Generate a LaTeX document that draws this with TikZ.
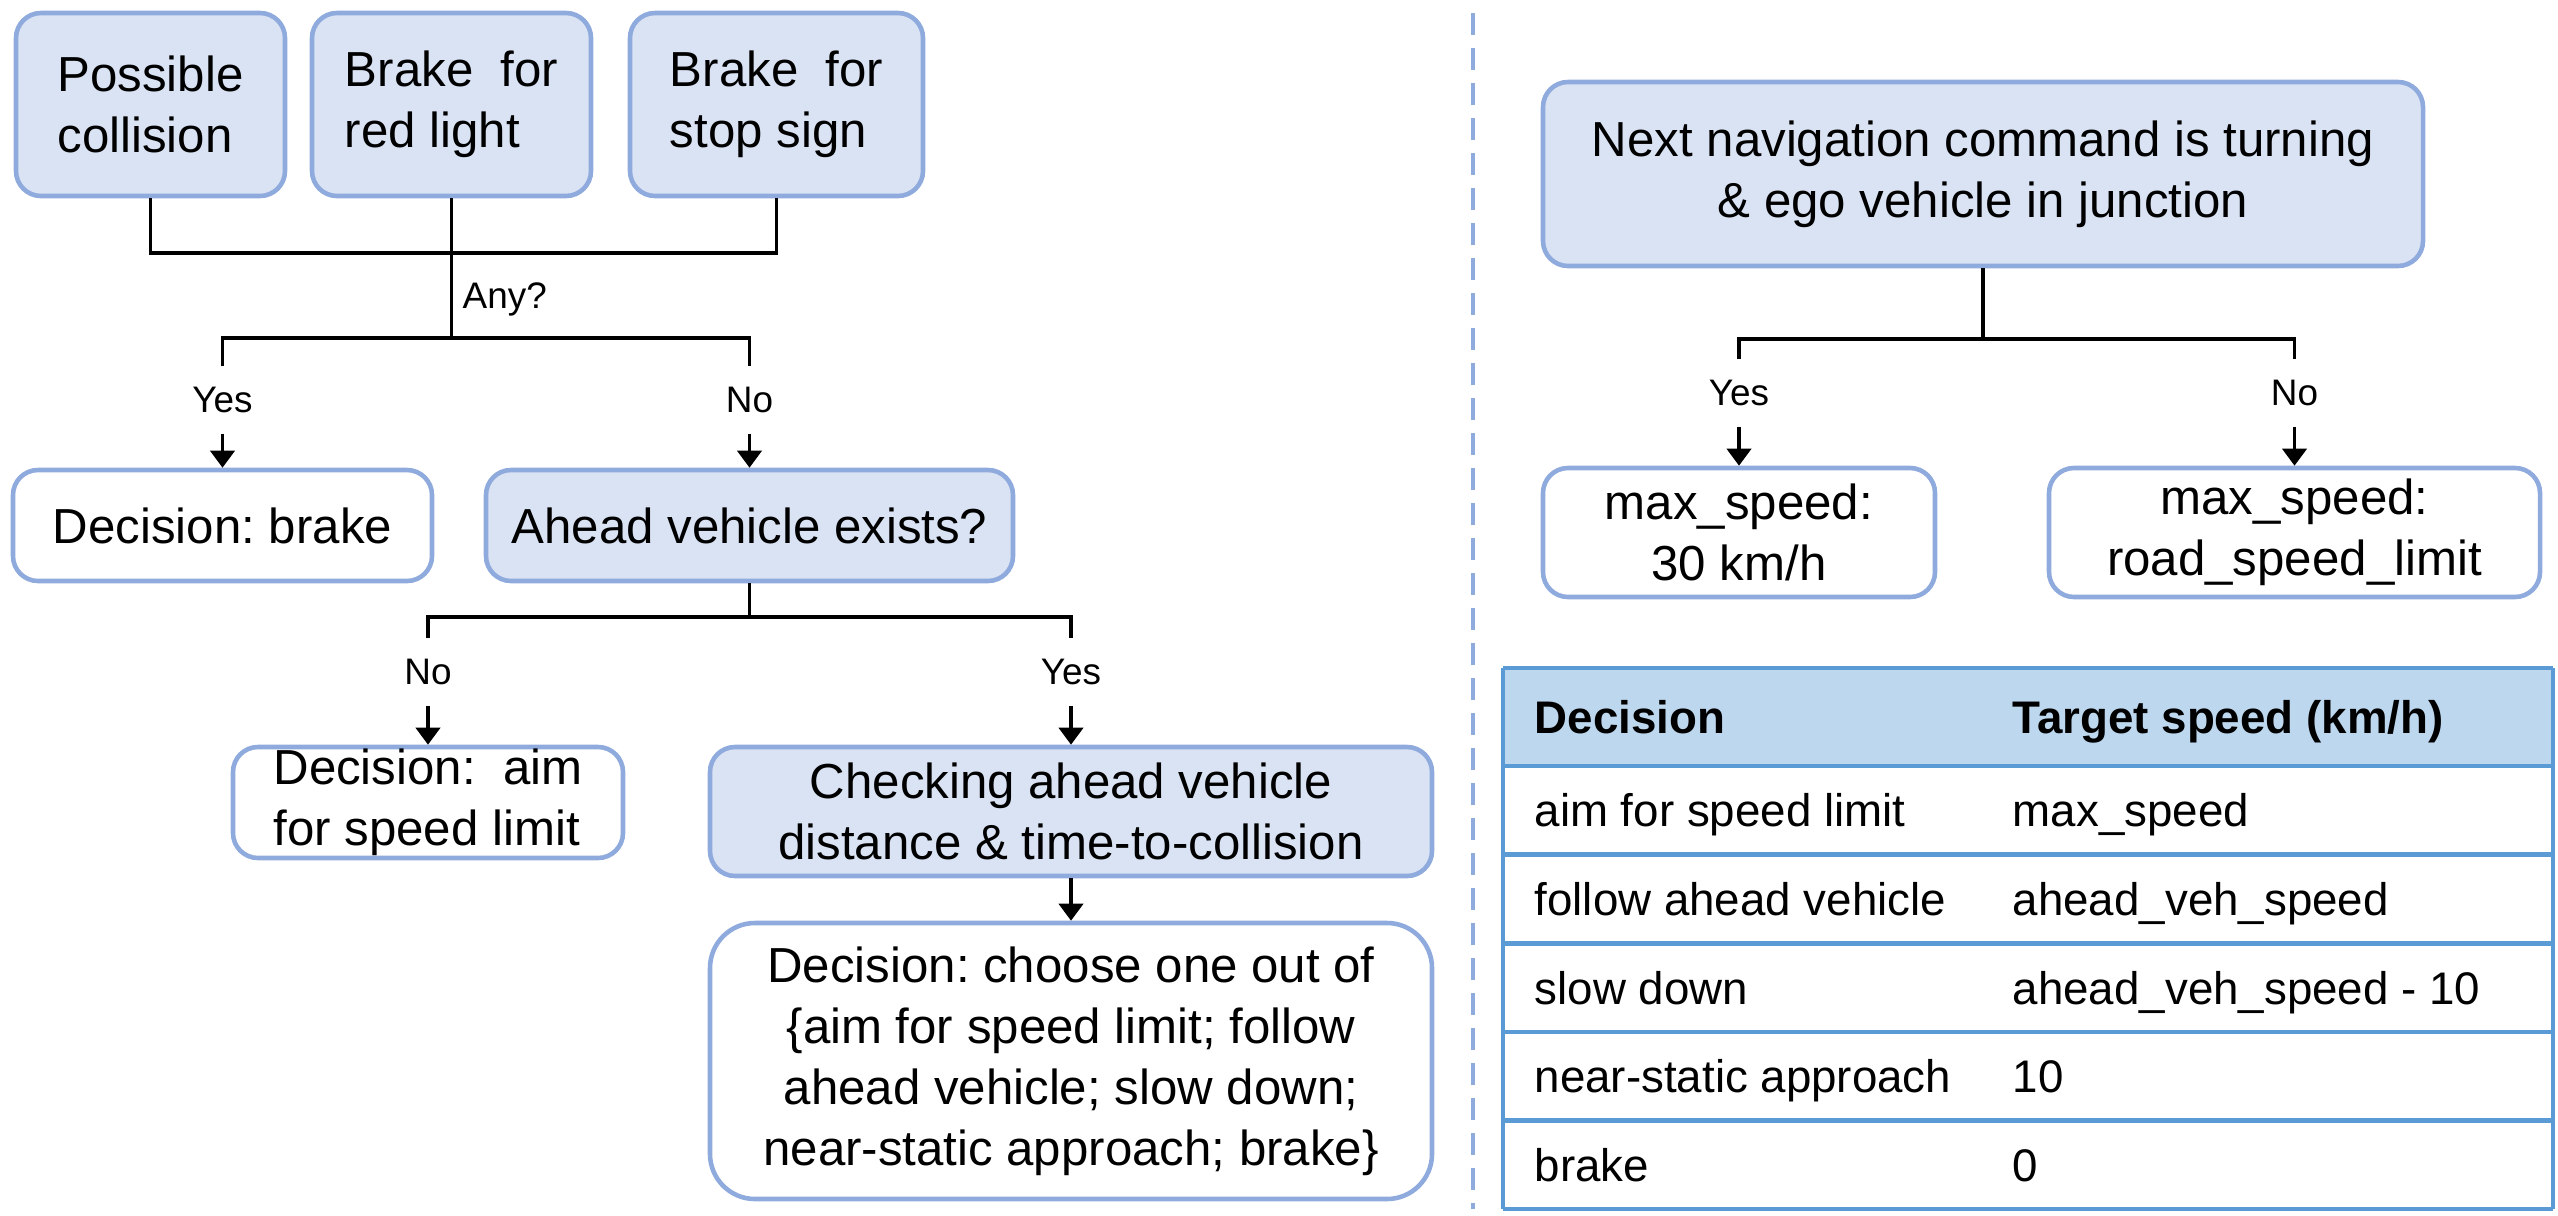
\documentclass[tikz,border=0pt]{standalone}
\usepackage{fontspec}
\setmainfont{Liberation Sans}
\usetikzlibrary{arrows.meta}
\definecolor{boxfill}{HTML}{DAE3F3}
\definecolor{boxline}{HTML}{8FAADC}
\definecolor{headfill}{HTML}{BDD7EE}
\definecolor{tabline}{HTML}{5B9BD5}
\frenchspacing

\begin{document}
\begin{tikzpicture}
  [box/.style={draw=boxline,line width=1.3pt,rounded corners=0.25cm,align=center,
     inner sep=0pt,font=\fontsize{14}{17.4}\selectfont},
   query/.style={box,fill=boxfill},
   decision/.style={box,fill=white},
   answer/.style={inner sep=0pt,minimum height=0.66cm,font=\fontsize{10.5}{12}\selectfont},
   link/.style={line width=1.1pt},
   arrow/.style={link,-{Triangle[length=1.7mm,width=2.4mm]}},
   cell/.style={anchor=base west,inner sep=0pt,font=\fontsize{13}{15}\selectfont}]
  \useasboundingbox (0,0) rectangle (25.58,-12.15);

  % left: braking checks
  \node[query,minimum width=2.69cm,minimum height=1.83cm,align=left] (coll) at (1.505,-1.045) {Possible\\collision};
  \node[query,minimum width=2.79cm,minimum height=1.83cm,align=left] (red) at (4.515,-1.045) {Brake\ \ for\\red light};
  \node[query,minimum width=2.93cm,minimum height=1.83cm,align=left] (stop) at (7.765,-1.045) {Brake\ \ for\\stop sign};
  \coordinate (j1) at (4.515,-2.53);
  \coordinate (j2) at (4.515,-3.38);
  \node[anchor=west,inner sep=0pt,font=\fontsize{10.5}{12}\selectfont] (any) at (4.62,-2.99) {Any?};

  \node[answer] (yes1) at (2.225,-4.00) {Yes};
  \node[answer] (no1) at (7.495,-4.00) {No};
  \node[decision,minimum width=4.19cm,minimum height=1.11cm] (brake) at (2.225,-5.255) {Decision: brake};
  \node[query,minimum width=5.27cm,minimum height=1.11cm] (ahead) at (7.495,-5.255) {Ahead vehicle exists?};
  \coordinate (j3) at (7.495,-6.17);

  \node[answer] (no2) at (4.28,-6.72) {No};
  \node[answer] (yes2) at (10.71,-6.72) {Yes};
  \node[decision,minimum width=3.90cm,minimum height=1.11cm,align=left] (aim) at (4.28,-8.025) {Decision:\ \ aim\\for speed limit};
  \node[query,minimum width=7.22cm,minimum height=1.29cm] (check) at (10.71,-8.115) {Checking ahead vehicle\\distance \& time-to-collision};
  \node[decision,rounded corners=0.45cm,minimum width=7.22cm,minimum height=2.76cm] (final) at (10.71,-10.61)
    {Decision: choose one out of\\\{aim for speed limit; follow\\ahead vehicle; slow down;\\near-static approach; brake\}};

  \draw[link] (coll.south) |- (j1) -| (stop.south);
  \draw[link] (red.south) -- (j1) -- (j2);
  \draw[link] (yes1.north) |- (j2) -| (no1.north);
  \draw[link] (ahead.south) -- (j3);
  \draw[link] (no2.north) |- (j3) -| (yes2.north);
  \foreach \from/\to in {yes1/brake,no1/ahead,no2/aim,yes2/check,check/final}
    \draw[arrow] (\from.south) -- (\to.north);

  % divider
  \draw[boxline,line width=1.1pt,dash pattern=on 0.22cm off 0.13cm] (14.73,-0.13) -- (14.73,-12.09);

  % right: speed limit
  \node[query,minimum width=8.80cm,minimum height=1.84cm] (nav) at (19.83,-1.74)
    {Next navigation command is turning\\\& ego vehicle in junction};
  \coordinate (j4) at (19.83,-3.39);
  \node[answer] (yes3) at (17.39,-3.93) {Yes};
  \node[answer] (no3) at (22.945,-3.93) {No};
  \node[decision,minimum width=3.92cm,minimum height=1.29cm] (max30) at (17.39,-5.325) {max\_speed:\\30 km/h};
  \node[decision,minimum width=4.91cm,minimum height=1.29cm] (road) at (22.945,-5.325) {max\_speed:\\road\_speed\_limit};

  \draw[link] (nav.south) -- (j4);
  \draw[link] (yes3.north) |- (j4) -| (no3.north);
  \foreach \from/\to in {yes3/max30,no3/road}
    \draw[arrow] (\from.south) -- (\to.north);

  % table of target speeds
  \fill[headfill] (15.03,-6.68) rectangle (25.53,-7.66);
  \foreach \y in {-6.68,-7.66,-8.546,-9.432,-10.318,-11.204,-12.09}
    \draw[tabline,line width=1.3pt] (15.03,\y) -- (25.53,\y);
  \draw[tabline,line width=1.3pt] (15.03,-6.68) -- (15.03,-12.09) (25.53,-6.68) -- (25.53,-12.09);
  \node[cell,font=\fontsize{13}{15}\selectfont\bfseries] (hdec) at (15.34,-7.335) {Decision};
  \node[cell,font=\fontsize{13}{15}\selectfont\bfseries] (hspd) at (20.12,-7.335) {Target speed (km/h)};
  \foreach \dec/\spd [count=\i] in {aim for speed limit/max\_speed,
      follow ahead vehicle/ahead\_veh\_speed,
      slow down/ahead\_veh\_speed - 10,
      near-static approach/10,
      brake/0}
  {
    \node[cell] (dec\i) at (15.34,{-7.66-0.886*(\i-0.5)-0.165}) {\dec};
    \node[cell] (spd\i) at (20.12,{-7.66-0.886*(\i-0.5)-0.165}) {\spd};
  }
\end{tikzpicture}
\end{document}
